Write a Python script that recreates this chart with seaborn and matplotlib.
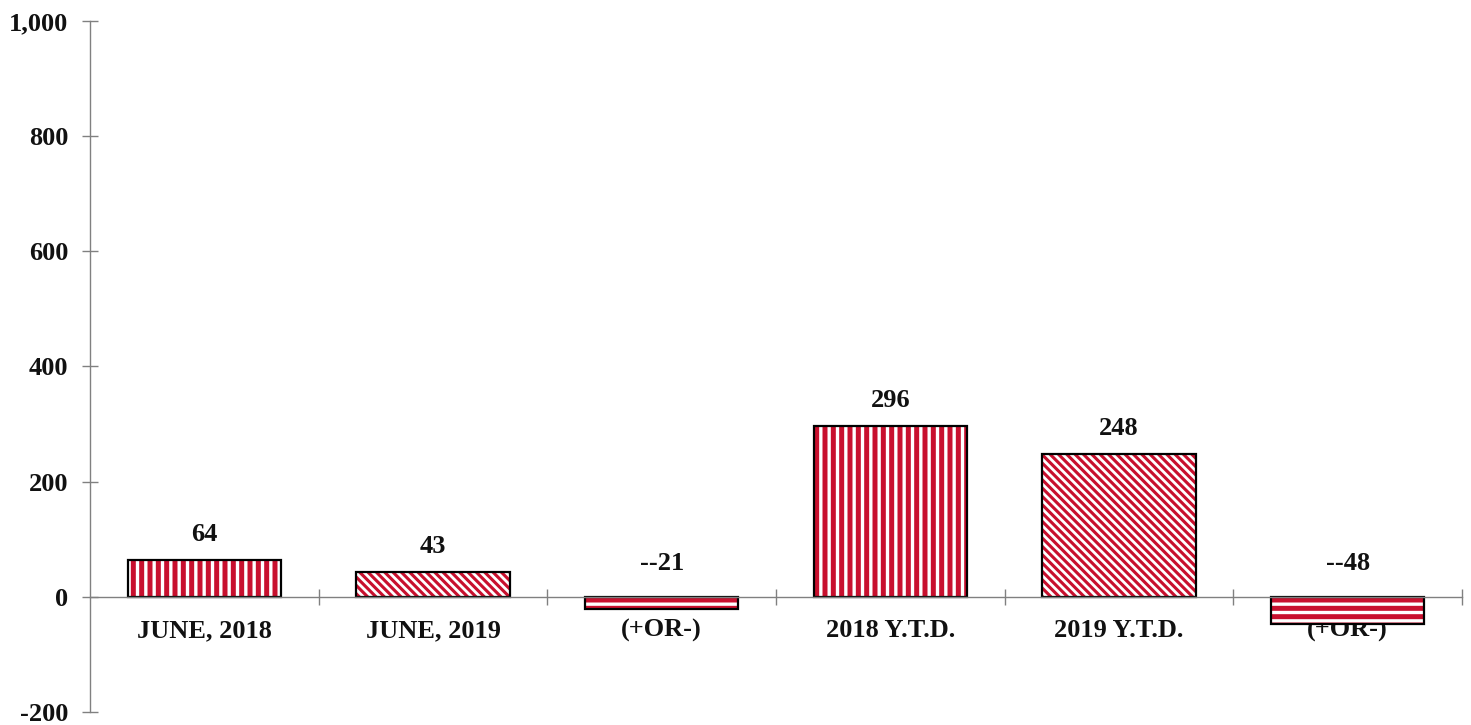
import matplotlib
matplotlib.use('Agg')
import matplotlib.pyplot as plt
import matplotlib.ticker as mticker
import numpy as np
import pandas as pd
import seaborn as sns

# Chart data
categories = ['JUNE, 2018', 'JUNE, 2019', '(+OR-)', '2018 Y.T.D.', '2019 Y.T.D.', '(+OR-)']
values = [64, 43, -21, 296, 248, -48]
value_labels = ['64', '43', '--21', '296', '248', '--48']
hatches = ['||', '\\\\\\\\', '--', '||', '\\\\\\\\', '--']
hatch_widths = [2.4, 2.0, 2.4, 2.4, 2.0, 2.4]
y_ticks = [-200, 0, 200, 400, 600, 800, 1000]

# Theme
sns.set_theme(style='white')
plt.rcParams['font.family'] = ['Liberation Serif', 'DejaVu Serif']
plt.rcParams['font.weight'] = 'bold'
plt.rcParams['axes.unicode_minus'] = False
plt.rcParams['hatch.linewidth'] = 2.2

bar_red = '#C8102E'
axis_gray = '#808080'

df = pd.DataFrame({'slot': np.arange(len(categories)), 'value': values})

fig = plt.figure(figsize=(14.71, 7.25), dpi=100)
ax = fig.add_axes([0.0612, 0.018, 0.9327, 0.953])

# Red bars with white hatching
sns.barplot(data=df, x='slot', y='value', color=bar_red, saturation=1,
            width=0.67, linewidth=0, errorbar=None, ax=ax)
for patch, h, hw in zip(ax.patches, hatches, hatch_widths):
    patch.set_hatch(h)
    patch.set_edgecolor('white')
    patch.set_linewidth(0)
    if hasattr(patch, 'set_hatch_linewidth'):
        patch.set_hatch_linewidth(hw)

# Black outlines on top
sns.barplot(data=df, x='slot', y='value', color='black', saturation=1,
            width=0.67, fill=False, linewidth=1.6, errorbar=None, ax=ax)

# Value labels
for i, (v, lbl) in enumerate(zip(values, value_labels)):
    off = 10 if v >= 0 else 16
    ax.annotate(lbl, xy=(i, max(v, 0)), xytext=(0, off), textcoords='offset points',
                ha='center', va='bottom', fontsize=19, fontweight='bold', color='#111111')

# Axes styling
ax.set_ylim(-200, 1000)
ax.set_yticks(y_ticks)
ax.yaxis.set_major_formatter(mticker.StrMethodFormatter('{x:,.0f}'))
ax.tick_params(axis='y', direction='inout', length=11, width=1, color=axis_gray,
               labelsize=19, labelcolor='#111111', pad=10, left=True)

ax.set_xticks(np.arange(len(categories)))
ax.set_xticklabels(categories)
ax.set_xticks(np.arange(len(categories)) + 0.5, minor=True)
ax.tick_params(axis='x', which='major', length=0, labelsize=19,
               labelcolor='#111111', pad=16)
ax.tick_params(axis='x', which='minor', direction='inout', length=11, width=1,
               color=axis_gray, bottom=True)

for side in ['top', 'right']:
    ax.spines[side].set_visible(False)
ax.spines['left'].set_color(axis_gray)
ax.spines['left'].set_linewidth(1)
ax.spines['bottom'].set_position(('data', 0))
ax.spines['bottom'].set_color(axis_gray)
ax.spines['bottom'].set_linewidth(1)

ax.set_xlabel('')
ax.set_ylabel('')

fig.savefig('out.png', dpi=100)
